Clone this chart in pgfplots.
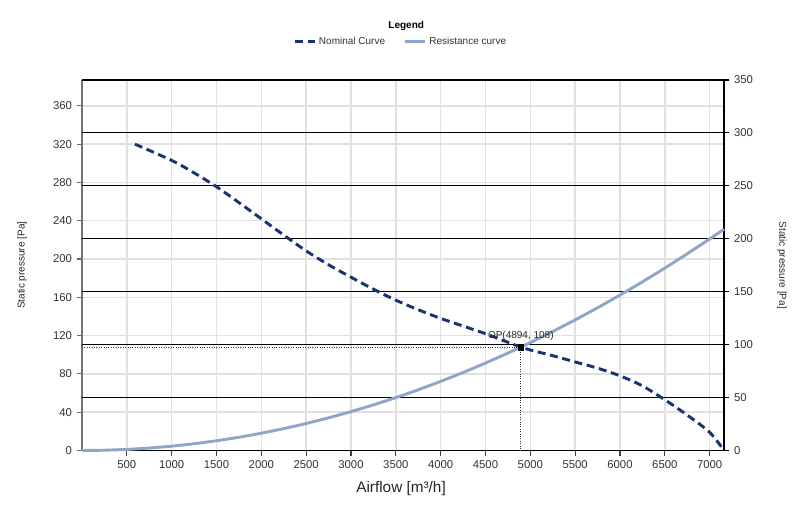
\documentclass[border=0pt]{standalone}
\usepackage{pgfplots}
\pgfplotsset{compat=1.18}
\usepackage{fontspec}
\setmainfont{Liberation Sans}
\definecolor{nomc}{RGB}{25,52,112}
\definecolor{resc}{RGB}{143,166,200}
\definecolor{lgrid}{RGB}{225,225,225}
\begin{document}
\begin{tikzpicture}
\path[use as bounding box] (-61.5pt,-42.375pt) rectangle (538.5pt,337.875pt);
\pgfplotsset{
  base/.style={
    at={(0,0)}, anchor=south west, scale only axis,
    width=481.5pt, height=277.875pt,
    xmin=0, xmax=7160,
    /pgf/number format/assume math mode=true,
    /pgf/number format/1000 sep={},
    tick align=outside, major tick length=4pt,
    ticklabel style={font=\fontsize{8.5}{10}\selectfont, text=black!80},
  }
}
% left axis with light grid
\begin{axis}[base,
  ymin=0, ymax=387,
  xtick={500,1000,...,7000}, ytick={0,40,...,360},
  grid=major, major grid style={draw=lgrid, line width=1.1pt},
  axis x line*=bottom, axis y line*=left,
  x axis line style={draw=black!75, line width=0.9pt, -},
  y axis line style={draw=black!55, line width=1.3pt, -},
  xtick style={draw=black!75, line width=0.8pt},
  ytick style={draw=black!60, line width=0.8pt},
  xlabel={Airflow [m³/h]},
  every axis x label/.style={at={(axis description cs:0.497,-0.104)}, anchor=center, font=\fontsize{11.5}{13}\selectfont, text=black!85},
  ylabel={Static pressure [Pa]},
  every axis y label/.style={at={(axis description cs:-0.0935,0.5)}, anchor=center, rotate=90, font=\fontsize{7.5}{9}\selectfont, text=black!85},
]
\end{axis}
% right axis with black horizontal lines
\begin{axis}[base,
  ymin=0, ymax=350,
  xtick=\empty, ytick={0,50,...,350},
  ymajorgrids, major grid style={draw=black, line width=0.75pt},
  axis x line*=top, axis y line*=right,
  x axis line style={draw=black, line width=0.9pt, -},
  y axis line style={draw=black, line width=0.9pt, -},
  ytick style={draw=black, line width=0.8pt},
  ylabel={Static pressure [Pa]},
  every axis y label/.style={at={(axis description cs:1.0903,0.5)}, anchor=center, rotate=-90, font=\fontsize{7.5}{9}\selectfont, text=black!85},
]
\end{axis}
% curves
\begin{axis}[base,
  ymin=0, ymax=387, hide axis, clip=false,
  legend columns=2,
  legend style={at={(axis description cs:0.497,1.1034)}, anchor=center, draw=none, fill=none,
    font=\fontsize{7.5}{9}\selectfont, text=black!80,
    /tikz/every even column/.append style={column sep=12pt}},
  legend image code/.code={\draw[#1] (0pt,0pt) -- (15pt,0pt);},
]
\addplot[nomc, line width=2.2pt, dash pattern=on 6pt off 3.5pt, smooth, tension=0.5] coordinates {
(590,320) (1000,303) (1250,290) (1500,275.5) (1750,259) (2000,242) (2250,225)
(2500,208.5) (2750,194) (3000,181) (3250,168.5) (3500,157) (3750,147) (4000,138)
(4250,130) (4500,122) (4750,113) (4894,108) (5000,105) (5250,99) (5500,92.5)
(5750,86) (6000,78) (6250,67.5) (6500,53) (6750,37) (7000,19) (7160,0)
};
\addlegendentry{Nominal Curve}
\addplot[resc, line width=2.2pt] coordinates {
(0,0) (250,0.28) (500,1.13) (750,2.54) (1000,4.51) (1250,7.05) (1500,10.15)
(1750,13.81) (2000,18.04) (2250,22.83) (2500,28.18) (2750,34.10) (3000,40.58)
(3250,47.63) (3500,55.24) (3750,63.41) (4000,72.14) (4250,81.44) (4500,91.31)
(4750,101.73) (4894,108) (5000,112.73) (5250,124.28) (5500,136.40) (5750,149.08)
(6000,162.32) (6250,176.13) (6500,190.51) (6750,205.44) (7000,220.94) (7160,231.15)
};
\addlegendentry{Resistance curve}
\addplot[black!80, densely dotted, line width=0.8pt, forget plot] coordinates {(0,108) (4894,108)};
\addplot[black!80, densely dotted, line width=0.8pt, forget plot] coordinates {(4894,108) (4894,0)};
\addplot[black, only marks, mark=square*, mark size=2pt, forget plot] coordinates {(4894,108)}
  node[above, yshift=1pt, font=\fontsize{7.5}{9}\selectfont, text=black!85] {OP(4894, 108)};
\node[font=\bfseries\fontsize{7.5}{9}\selectfont] at (axis description cs:0.505,1.1457) {Legend};
\end{axis}
\end{tikzpicture}
\end{document}
